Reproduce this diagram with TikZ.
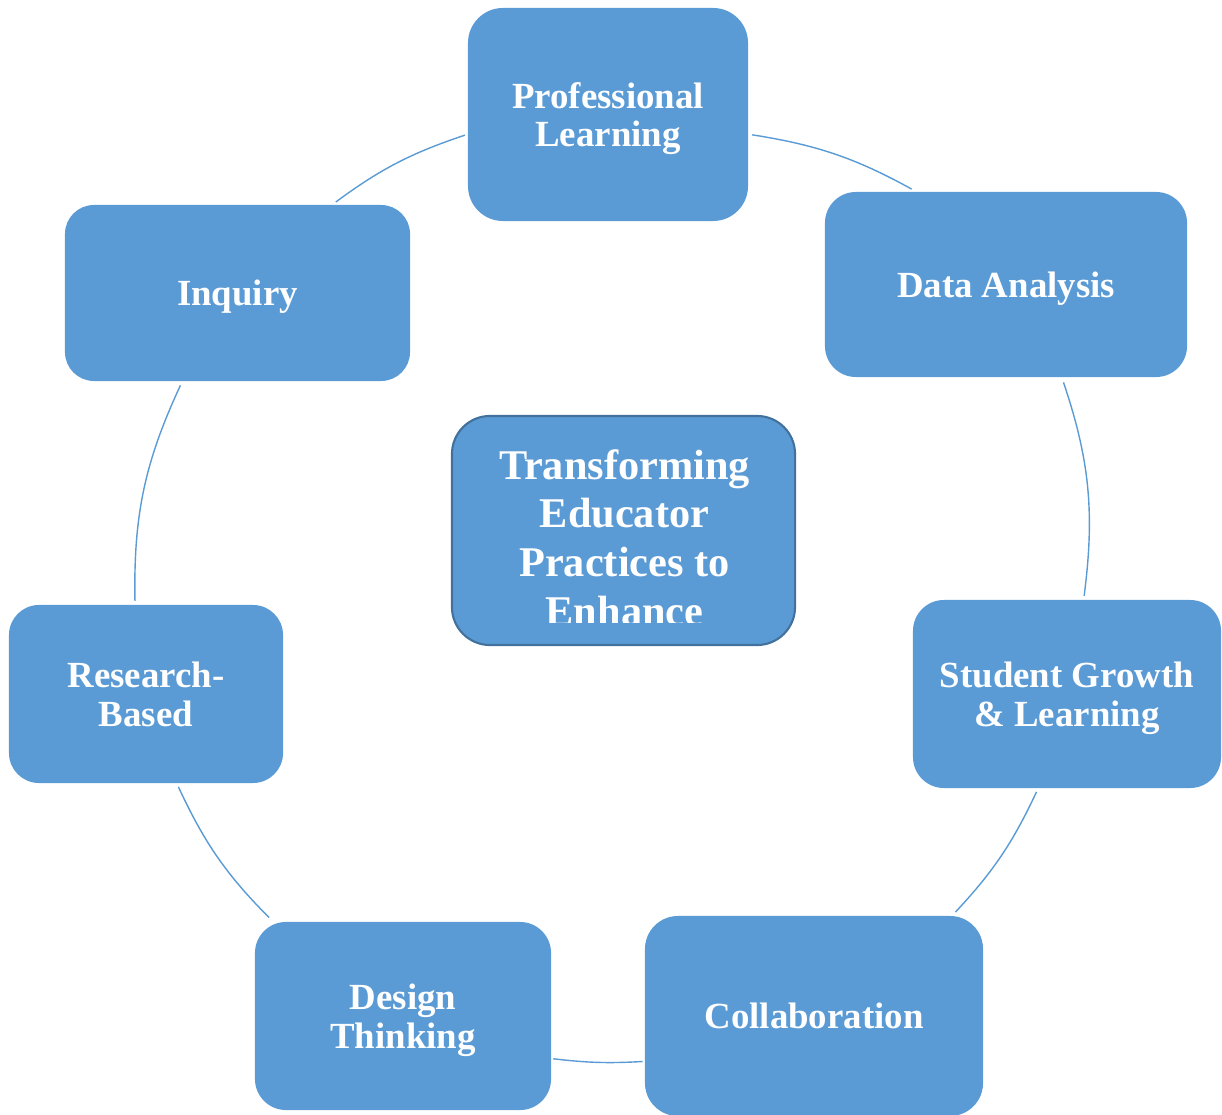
\documentclass[tikz,border=0pt]{standalone}
\usepackage{fontspec}
\setmainfont{Liberation Serif}
\definecolor{boxblue}{HTML}{5B9BD5}
\definecolor{edgeblue}{HTML}{41719C}
\begin{document}
\begin{tikzpicture}[x=0.025cm, y=-0.025cm,
  stagebox/.style={rectangle, fill=boxblue, inner sep=0pt, text=white,
    text depth=0pt, align=center,
    font=\bfseries\fontsize{26.2pt}{27.6pt}\selectfont},
  hubbox/.style={rectangle, fill=boxblue, draw=edgeblue, line width=1.5pt,
    inner sep=0pt, rounded corners=0.95cm,
    minimum width=8.575cm, minimum height=5.725cm},
  hubtext/.style={inner sep=0pt, text=white, align=center,
    font=\bfseries\fontsize{30.1pt}{34.7pt}\selectfont},
  cycle/.style={draw=boxblue, line width=1pt}]
\useasboundingbox (0,0) rectangle (1222,1115);

% outer stages, clockwise from the top
\node[stagebox, minimum width=7.0cm, minimum height=5.325cm, rounded corners=0.875cm]
  (PL) at (608,114.5) {Professional\\Learning};
\node[stagebox, minimum width=9.05cm, minimum height=4.625cm, rounded corners=0.775cm]
  (DA) at (1006,284.5) {Data Analysis};
\node[stagebox, minimum width=7.7cm, minimum height=4.7cm, rounded corners=0.775cm]
  (SG) at (1067,694) {Student Growth\\\& Learning};
\node[stagebox, minimum width=8.45cm, minimum height=5.0cm, rounded corners=0.825cm]
  (CO) at (814,1016) {Collaboration};
\node[stagebox, minimum width=7.4cm, minimum height=4.7cm, rounded corners=0.775cm]
  (DT) at (403,1016) {Design\\Thinking};
\node[stagebox, minimum width=6.85cm, minimum height=4.45cm, rounded corners=0.75cm]
  (RB) at (146,694) {Research-\\Based};
\node[stagebox, minimum width=8.625cm, minimum height=4.4cm, rounded corners=0.725cm]
  (IN) at (237.5,293) {Inquiry};

% centre box; its text runs past the bottom and is cut off
\node[hubbox] (HUB) at (623.5,530.5) {};
\begin{scope}
  \clip (452,416) rectangle (795,622);
  \node[hubtext, anchor=north] (HUBT) at (624.5,449)
    {Transforming\\Educator\\Practices to\\Enhance};
\end{scope}

% arcs of the cycle
\draw[cycle, shorten <=2.8pt, shorten >=3.8pt] (PL.-8.9) to[bend left=10] (DA.134.8);
\draw[cycle, shorten <=3.8pt, shorten >=2.8pt] (DA.-59.25) to[bend left=13] (SG.80.7);
\draw[cycle, shorten <=2.8pt, shorten >=3.5pt] (SG.-107) to[bend left=9] (CO.36.3);
\draw[cycle, shorten <=1.4pt, shorten >=1.4pt] (CO.195.1) to[bend left=5] (DT.-16);
\draw[cycle, shorten <=4.2pt, shorten >=2.8pt] (DT.144) to[bend left=10] (RB.-71.6);
\draw[cycle, shorten <=2.8pt, shorten >=3.2pt] (RB.97.4) to[bend left=13] (IN.-122);
\draw[cycle, shorten <=3.2pt, shorten >=2.1pt] (IN.43.6) to[bend left=9] (PL.188.9);
\end{tikzpicture}
\end{document}
